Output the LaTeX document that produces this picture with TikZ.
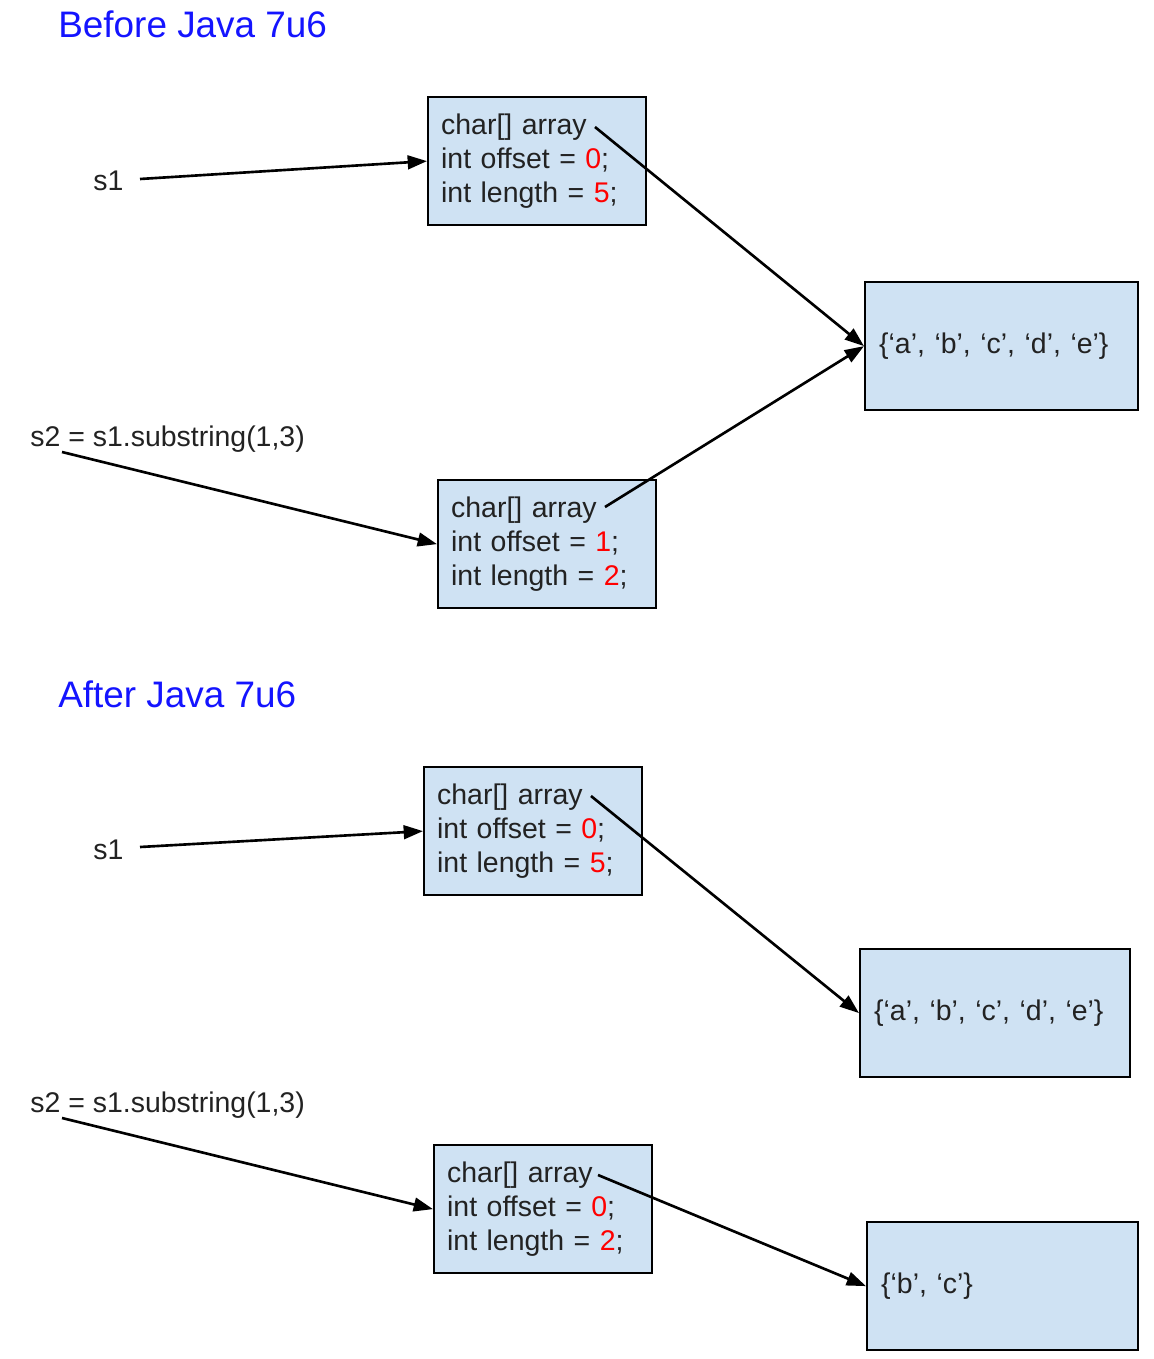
\documentclass[tikz,border=0pt]{standalone}
\usepackage{fontspec}
\setmainfont{Liberation Sans}
\usetikzlibrary{arrows.meta,positioning}
\definecolor{boxblue}{RGB}{207,226,243}
\definecolor{headblue}{RGB}{20,20,255}
\definecolor{valred}{RGB}{255,0,0}
\definecolor{textgray}{RGB}{34,34,34}
\newcommand{\val}[1]{\textcolor{valred}{#1}}

\begin{document}
\begin{tikzpicture}[x=0.02cm,y=-0.02cm,>={Triangle[length=11pt,width=7.8pt]},
  font=\fontsize{16.2}{19.35}\selectfont,
  objbox/.style={draw,line width=1.3pt,fill=boxblue,text=textgray,anchor=north west,minimum height=2.56cm,inner xsep=0.26cm,text width=3.84cm,align=left},
  arrbox/.style={draw,line width=1.3pt,fill=boxblue,text=textgray,anchor=north west,minimum height=2.56cm,inner xsep=0.28cm,text width=4.9cm,align=left},
  heading/.style={anchor=base west,inner sep=0pt,text=headblue,font=\fontsize{21}{25}\selectfont},
  varname/.style={anchor=base west,inner sep=0pt,text=textgray},
  pointer/.style={->,line width=1.5pt}]
\useasboundingbox (0,0) rectangle (1153,1359);

% before
\node[heading] (before) at (58,37) {Before Java 7u6};
\node[varname] (s1a) at (93,190) {s1};
\node[objbox] (str1) at (427,96) {char[] array\\int offset = \val{0};\\int length = \val{5};};
\node[arrbox] (chars1) at (864,281) {\{‘a’, ‘b’, ‘c’, ‘d’, ‘e’\}};
\node[varname] (s2a) at (30,446) {s2 = s1.substring(1,3)};
\node[objbox] (str2) at (437,479) {char[] array\\int offset = \val{1};\\int length = \val{2};};
\coordinate (s1atail) at (140,179);
\coordinate (s2atail) at (62,452);
\coordinate (str1tail) at (595,127);
\coordinate (str2tail) at (605,507);
\draw[pointer] (s1atail) -- (str1.west);
\draw[pointer] (s2atail) -- (str2.west);
\draw[pointer] (str1tail) -- (chars1.west);
\draw[pointer] (str2tail) -- (chars1.west);

% after
\node[heading] (after) at (58,707) {After Java 7u6};
\node[varname] (s1b) at (93,859) {s1};
\node[objbox] (str3) at (423,766) {char[] array\\int offset = \val{0};\\int length = \val{5};};
\node[arrbox,text width=4.84cm] (chars2) at (859,948) {\{‘a’, ‘b’, ‘c’, ‘d’, ‘e’\}};
\node[varname] (s2b) at (30,1112) {s2 = s1.substring(1,3)};
\node[objbox] (str4) at (433,1144) {char[] array\\int offset = \val{0};\\int length = \val{2};};
\node[arrbox,text width=4.86cm] (chars3) at (866,1221) {\{‘b’, ‘c’\}};
\coordinate (s1btail) at (140,847);
\coordinate (s2btail) at (62,1118);
\coordinate (str3tail) at (591,796);
\coordinate (str4tail) at (598,1175);
\draw[pointer] (s1btail) -- (str3.west);
\draw[pointer] (s2btail) -- (str4.west);
\draw[pointer] (str3tail) -- (chars2.west);
\draw[pointer] (str4tail) -- (chars3.west);
\end{tikzpicture}
\end{document}
